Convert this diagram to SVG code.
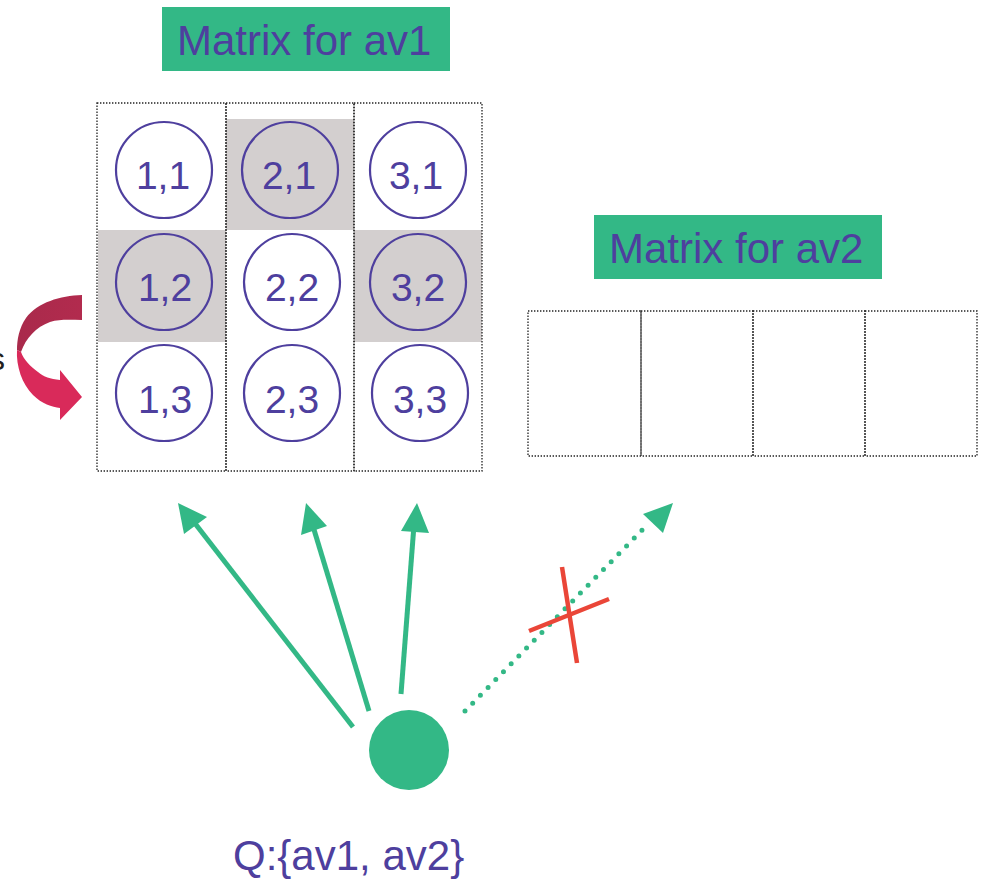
<svg xmlns="http://www.w3.org/2000/svg" width="984" height="880" viewBox="0 0 984 880">
  <defs>
    <style>
      .label-box { fill: #33b886; }
      .label { font-family: "Liberation Sans", Arial, sans-serif; font-size: 42px; fill: #4e3f9e; }
      .cell { fill: none; stroke: #222; stroke-width: 1.3; stroke-dasharray: 1.4 1.6; }
      .shade { fill: #d3cfcf; }
      .ring { fill: none; stroke: #4e3f9e; stroke-width: 2.2; }
      .coord { font-family: "Liberation Sans", Arial, sans-serif; font-size: 39px; fill: #4e3f9e; text-anchor: middle; }
      .link { stroke: #33b886; stroke-width: 5; fill: none; }
      .head { fill: #33b886; }
      .cross { stroke: #ea4638; stroke-width: 4.5; }
    </style>
    <linearGradient id="ribbonTop" x1="0" y1="0" x2="1" y2="0">
      <stop offset="0" stop-color="#a92a4b"/>
      <stop offset="1" stop-color="#b22b4e"/>
    </linearGradient>
  </defs>

  <!-- partially visible side text -->
  <text x="-11" y="370" font-family="Liberation Sans, Arial, sans-serif" font-size="32" fill="#231f20">s</text>

  <!-- matrix for av1 -->
  <g id="label-av1">
    <rect class="label-box" x="162" y="7" width="288" height="64"/>
    <text class="label" x="177" y="55">Matrix for av1</text>
  </g>

  <g id="matrix-av1">
    <rect class="shade" x="226" y="119" width="128" height="111"/>
    <rect class="shade" x="98" y="230" width="128" height="112"/>
    <rect class="shade" x="354" y="230" width="128" height="112"/>
    <rect class="cell" x="97" y="103" width="129" height="368"/>
    <rect class="cell" x="226" y="103" width="128" height="368"/>
    <rect class="cell" x="354" y="103" width="128" height="368"/>
  </g>

  <g id="cell-1-1"><circle class="ring" cx="164" cy="170" r="48"/><text class="coord" x="163" y="189">1,1</text></g>
  <g id="cell-2-1"><circle class="ring" cx="290" cy="170" r="48"/><text class="coord" x="289" y="189">2,1</text></g>
  <g id="cell-3-1"><circle class="ring" cx="418" cy="170" r="48"/><text class="coord" x="416" y="189">3,1</text></g>
  <g id="cell-1-2"><circle class="ring" cx="164" cy="282" r="48"/><text class="coord" x="165" y="301">1,2</text></g>
  <g id="cell-2-2"><circle class="ring" cx="292" cy="282" r="48"/><text class="coord" x="292" y="301">2,2</text></g>
  <g id="cell-3-2"><circle class="ring" cx="418" cy="282" r="48"/><text class="coord" x="418" y="301">3,2</text></g>
  <g id="cell-1-3"><circle class="ring" cx="164" cy="393" r="48"/><text class="coord" x="165" y="413">1,3</text></g>
  <g id="cell-2-3"><circle class="ring" cx="292" cy="393" r="48"/><text class="coord" x="292" y="413">2,3</text></g>
  <g id="cell-3-3"><circle class="ring" cx="420" cy="393" r="48"/><text class="coord" x="420" y="413">3,3</text></g>

  <!-- curved ribbon arrow -->
  <g id="swap-arrow">
    <path fill="url(#ribbonTop)" d="M82,295 C60,296 38,302 26,318 C19,328 17,340 17,350 L21,352 C26,338 36,327 50,322 C60,319 70,320 82,320 Z"/>
    <path fill="#d92a5a" d="M17,350 C16,366 22,384 33,395 C42,404 52,407 60,408 L60,420 L82,397 L60,370 L60,380 C50,379 44,377 38,372 C30,366 24,360 21,352 Z"/>
  </g>

  <!-- matrix for av2 -->
  <g id="label-av2">
    <rect class="label-box" x="594" y="215" width="288" height="64"/>
    <text class="label" x="609" y="263">Matrix for av2</text>
  </g>

  <g id="matrix-av2">
    <rect class="cell" x="528" y="311" width="113" height="145"/>
    <rect class="cell" x="641" y="311" width="112" height="145"/>
    <rect class="cell" x="753" y="311" width="112" height="145"/>
    <rect class="cell" x="865" y="311" width="112" height="145"/>
  </g>

  <!-- query node -->
  <g id="query">
    <circle cx="409" cy="750" r="40" fill="#33b886"/>
    <text class="label" x="233" y="870" font-size="44">Q:{av1, av2}</text>
  </g>

  <!-- connectors -->
  <g id="connectors">
    <line class="link" x1="353" y1="727" x2="190" y2="517"/>
    <polygon class="head" points="178,503 207,517 184,534"/>
    <line class="link" x1="369" y1="711" x2="312" y2="523"/>
    <polygon class="head" points="306,503 327,526 301,535"/>
    <line class="link" x1="401" y1="694" x2="414" y2="525"/>
    <polygon class="head" points="417,503 429,533 401,531"/>
    <line class="link" x1="465" y1="711" x2="648" y2="524" stroke-linecap="round" stroke-dasharray="0 11"/>
    <polygon class="head" points="673,503 663,533 643,514"/>
    <line class="cross" x1="562" y1="567" x2="577" y2="663"/>
    <line class="cross" x1="529" y1="631" x2="609" y2="599"/>
  </g>
</svg>
